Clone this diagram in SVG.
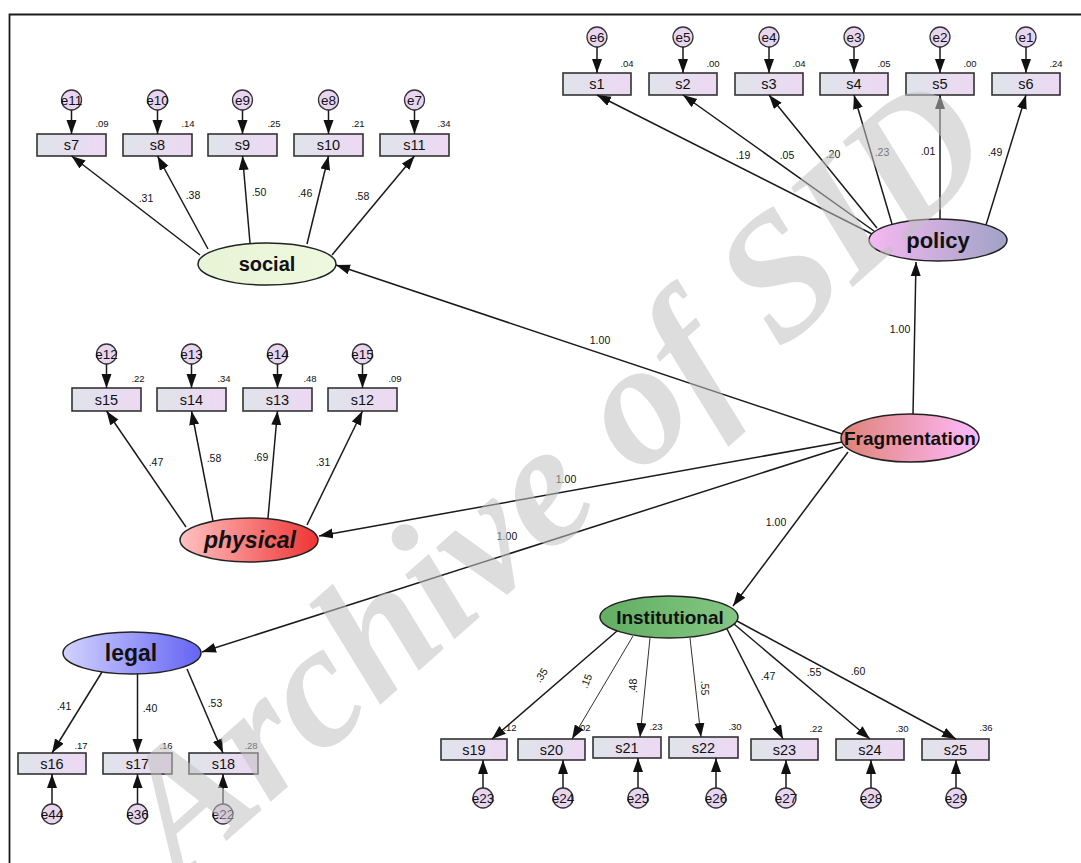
<svg xmlns="http://www.w3.org/2000/svg" width="1081" height="863" viewBox="0 0 1081 863">
<style>
text{font-family:"Liberation Sans",Arial,sans-serif;fill:#111}
.box{fill:url(#gBox);stroke:#333;stroke-width:1.6}
.err{fill:#e8d6f0;stroke:#333;stroke-width:1.3}
.bt{font-size:14.5px;text-anchor:middle}
.et{font-size:13.5px;text-anchor:middle}
.vt{font-size:9.5px;text-anchor:middle}
.lt{font-size:10.5px;text-anchor:middle}
.lat{stroke:#222;stroke-width:1.5}
.nm{font-weight:bold;text-anchor:middle}
.ln{stroke:#1a1a1a;stroke-width:1.5;fill:none;marker-end:url(#ah)}
.thin{stroke:#1a1a1a;stroke-width:0.9;fill:none;marker-end:url(#ah)}
.wm{font-family:"Liberation Serif","Times New Roman",serif;font-weight:bold;font-style:italic;font-size:176px;fill:#c2c2c2;opacity:0.55}
</style>
<defs>
<marker id="ah" markerUnits="userSpaceOnUse" markerWidth="15" markerHeight="11" refX="14" refY="5" orient="auto"><path d="M0,0 L14,5 L0,10 z" fill="#111"/></marker>
<linearGradient id="gBox" x1="0" x2="1" y1="0" y2="0"><stop offset="0" stop-color="#dfe4ea"/><stop offset="1" stop-color="#edd8f3"/></linearGradient>
<linearGradient id="gPol" x1="0" x2="1"><stop offset="0" stop-color="#f6b8f2"/><stop offset="1" stop-color="#9fa3c6"/></linearGradient>
<linearGradient id="gSoc" x1="0" x2="1"><stop offset="0" stop-color="#e8f4d6"/><stop offset="1" stop-color="#eef8de"/></linearGradient>
<linearGradient id="gPhy" x1="0" x2="1"><stop offset="0" stop-color="#ffc2c2"/><stop offset="1" stop-color="#f03434"/></linearGradient>
<linearGradient id="gLeg" x1="0" x2="1"><stop offset="0" stop-color="#d2d2ff"/><stop offset="1" stop-color="#6464f4"/></linearGradient>
<linearGradient id="gIns" x1="0" x2="1"><stop offset="0" stop-color="#62ae62"/><stop offset="1" stop-color="#84c684"/></linearGradient>
<linearGradient id="gFra" x1="0" x2="1"><stop offset="0" stop-color="#de8274"/><stop offset="1" stop-color="#ffbaff"/></linearGradient>
</defs>
<rect width="1081" height="863" fill="#fff"/>
<path d="M9.5,863 V14.5 H1081" fill="none" stroke="#1a1a1a" stroke-width="1.8"/>

<!-- latent nodes -->
<g id="Fragmentation"><ellipse class="lat" cx="910" cy="438" rx="69" ry="24" fill="url(#gFra)"/><text class="nm" x="910" y="445" font-size="19">Fragmentation</text></g>
<g id="policy"><ellipse class="lat" cx="938" cy="240" rx="69" ry="21" fill="url(#gPol)"/><text class="nm" x="938" y="248" font-size="22">policy</text></g>
<g id="social"><ellipse class="lat" cx="267" cy="264" rx="69" ry="21" fill="url(#gSoc)"/><text class="nm" x="267" y="271" font-size="20">social</text></g>
<g id="physical"><ellipse class="lat" cx="249" cy="540" rx="69" ry="22" fill="url(#gPhy)"/><text class="nm" x="250" y="548" font-size="23" font-style="italic">physical</text></g>
<g id="legal"><ellipse class="lat" cx="132" cy="653" rx="69" ry="21" fill="url(#gLeg)"/><text class="nm" x="131" y="661" font-size="23">legal</text></g>
<g id="Institutional"><ellipse class="lat" cx="669" cy="617" rx="69" ry="21" fill="url(#gIns)"/><text class="nm" x="670" y="624" font-size="19">Institutional</text></g>

<!-- policy indicators -->
<g id="s1"><rect class="box" x="563" y="73" width="68" height="22"/><text class="bt" x="597" y="89">s1</text><text class="vt" x="627" y="67">.04</text></g>
<g id="s2"><rect class="box" x="649" y="73" width="68" height="22"/><text class="bt" x="683" y="89">s2</text><text class="vt" x="713" y="67">.00</text></g>
<g id="s3"><rect class="box" x="735" y="73" width="68" height="22"/><text class="bt" x="769" y="89">s3</text><text class="vt" x="799" y="67">.04</text></g>
<g id="s4"><rect class="box" x="820" y="73" width="68" height="22"/><text class="bt" x="854" y="89">s4</text><text class="vt" x="884" y="67">.05</text></g>
<g id="s5"><rect class="box" x="906" y="73" width="68" height="22"/><text class="bt" x="940" y="89">s5</text><text class="vt" x="970" y="67">.00</text></g>
<g id="s6"><rect class="box" x="992" y="73" width="68" height="22"/><text class="bt" x="1026" y="89">s6</text><text class="vt" x="1056" y="67">.24</text></g>
<g id="e6"><circle class="err" cx="597" cy="37" r="10"/><text class="et" x="597" y="42">e6</text></g>
<g id="e5"><circle class="err" cx="683" cy="37" r="10"/><text class="et" x="683" y="42">e5</text></g>
<g id="e4"><circle class="err" cx="769" cy="37" r="10"/><text class="et" x="769" y="42">e4</text></g>
<g id="e3"><circle class="err" cx="854" cy="37" r="10"/><text class="et" x="854" y="42">e3</text></g>
<g id="e2"><circle class="err" cx="940" cy="37" r="10"/><text class="et" x="940" y="42">e2</text></g>
<g id="e1"><circle class="err" cx="1026" cy="37" r="10"/><text class="et" x="1026" y="42">e1</text></g>

<!-- social indicators -->
<g id="s7"><rect class="box" x="37" y="134" width="69" height="22"/><text class="bt" x="71.5" y="150">s7</text><text class="vt" x="102" y="127">.09</text></g>
<g id="s8"><rect class="box" x="123" y="134" width="69" height="22"/><text class="bt" x="157.5" y="150">s8</text><text class="vt" x="188" y="127">.14</text></g>
<g id="s9"><rect class="box" x="208" y="134" width="69" height="22"/><text class="bt" x="242.5" y="150">s9</text><text class="vt" x="274" y="127">.25</text></g>
<g id="s10"><rect class="box" x="294" y="134" width="69" height="22"/><text class="bt" x="328.5" y="150">s10</text><text class="vt" x="358" y="127">.21</text></g>
<g id="s11"><rect class="box" x="380" y="134" width="69" height="22"/><text class="bt" x="414.5" y="150">s11</text><text class="vt" x="444" y="127">.34</text></g>
<g id="e11"><circle class="err" cx="71.5" cy="100" r="10"/><text class="et" x="71.5" y="105">e11</text></g>
<g id="e10"><circle class="err" cx="157.5" cy="100" r="10"/><text class="et" x="157.5" y="105">e10</text></g>
<g id="e9"><circle class="err" cx="242.5" cy="100" r="10"/><text class="et" x="242.5" y="105">e9</text></g>
<g id="e8"><circle class="err" cx="328.5" cy="100" r="10"/><text class="et" x="328.5" y="105">e8</text></g>
<g id="e7"><circle class="err" cx="414.5" cy="100" r="10"/><text class="et" x="414.5" y="105">e7</text></g>

<!-- physical indicators -->
<g id="s15"><rect class="box" x="72" y="388" width="69" height="23"/><text class="bt" x="106.5" y="404.5">s15</text><text class="vt" x="138" y="382">.22</text></g>
<g id="s14"><rect class="box" x="157" y="388" width="69" height="23"/><text class="bt" x="191.5" y="404.5">s14</text><text class="vt" x="224" y="382">.34</text></g>
<g id="s13"><rect class="box" x="243" y="388" width="69" height="23"/><text class="bt" x="277.5" y="404.5">s13</text><text class="vt" x="310" y="382">.48</text></g>
<g id="s12"><rect class="box" x="328" y="388" width="69" height="23"/><text class="bt" x="362.5" y="404.5">s12</text><text class="vt" x="395" y="382">.09</text></g>
<g id="e12"><circle class="err" cx="106.5" cy="354" r="10"/><text class="et" x="106.5" y="359">e12</text></g>
<g id="e13"><circle class="err" cx="191.5" cy="354" r="10"/><text class="et" x="191.5" y="359">e13</text></g>
<g id="e14"><circle class="err" cx="277.5" cy="354" r="10"/><text class="et" x="277.5" y="359">e14</text></g>
<g id="e15"><circle class="err" cx="362.5" cy="354" r="10"/><text class="et" x="362.5" y="359">e15</text></g>

<!-- legal indicators -->
<g id="s16"><rect class="box" x="18" y="753" width="68" height="21"/><text class="bt" x="52" y="768.5">s16</text><text class="vt" x="81" y="749">.17</text></g>
<g id="s17"><rect class="box" x="103" y="753" width="69" height="21"/><text class="bt" x="137.5" y="768.5">s17</text><text class="vt" x="166" y="749">.16</text></g>
<g id="s18"><rect class="box" x="189" y="753" width="69" height="21"/><text class="bt" x="223.5" y="768.5">s18</text><text class="vt" x="251" y="749">.28</text></g>
<g id="e44"><circle class="err" cx="52" cy="814" r="10"/><text class="et" x="52" y="819">e44</text></g>
<g id="e36"><circle class="err" cx="137.5" cy="814" r="10"/><text class="et" x="137.5" y="819">e36</text></g>
<g id="e22"><circle class="err" cx="223" cy="814" r="10"/><text class="et" x="223" y="819">e22</text></g>

<!-- institutional indicators -->
<g id="s19"><rect class="box" x="441" y="739" width="66" height="21"/><text class="bt" x="474" y="754.5">s19</text><text class="vt" x="510" y="731">.12</text></g>
<g id="s20"><rect class="box" x="518" y="739" width="67" height="21"/><text class="bt" x="551.5" y="754.5">s20</text><text class="vt" x="584" y="731">.02</text></g>
<g id="s21"><rect class="box" x="593" y="737" width="68" height="21"/><text class="bt" x="627" y="752.5">s21</text><text class="vt" x="656" y="730">.23</text></g>
<g id="s22"><rect class="box" x="669" y="737" width="69" height="21"/><text class="bt" x="703.5" y="752.5">s22</text><text class="vt" x="735" y="730">.30</text></g>
<g id="s23"><rect class="box" x="751" y="739" width="67" height="21"/><text class="bt" x="784.5" y="754.5">s23</text><text class="vt" x="816" y="732">.22</text></g>
<g id="s24"><rect class="box" x="836" y="739" width="68" height="21"/><text class="bt" x="870" y="754.5">s24</text><text class="vt" x="902" y="732">.30</text></g>
<g id="s25"><rect class="box" x="922" y="739" width="67" height="21"/><text class="bt" x="955.5" y="754.5">s25</text><text class="vt" x="986" y="731">.36</text></g>
<g id="e23"><circle class="err" cx="483" cy="798" r="10"/><text class="et" x="483" y="803">e23</text></g>
<g id="e24"><circle class="err" cx="563" cy="798" r="10"/><text class="et" x="563" y="803">e24</text></g>
<g id="e25"><circle class="err" cx="638" cy="798" r="10"/><text class="et" x="638" y="803">e25</text></g>
<g id="e26"><circle class="err" cx="716" cy="798" r="10"/><text class="et" x="716" y="803">e26</text></g>
<g id="e27"><circle class="err" cx="786" cy="798" r="10"/><text class="et" x="786" y="803">e27</text></g>
<g id="e28"><circle class="err" cx="871" cy="798" r="10"/><text class="et" x="871" y="803">e28</text></g>
<g id="e29"><circle class="err" cx="956" cy="798" r="10"/><text class="et" x="956" y="803">e29</text></g>

<!-- connectors -->
<g id="connectors">
<!-- error arrows -->
<line class="ln" x1="597" y1="47" x2="597" y2="73"/>
<line class="ln" x1="683" y1="47" x2="683" y2="73"/>
<line class="ln" x1="769" y1="47" x2="769" y2="73"/>
<line class="ln" x1="854" y1="47" x2="854" y2="73"/>
<line class="ln" x1="940" y1="47" x2="940" y2="73"/>
<line class="ln" x1="1026" y1="47" x2="1026" y2="73"/>
<line class="ln" x1="71.5" y1="110" x2="71.5" y2="134"/>
<line class="ln" x1="157.5" y1="110" x2="157.5" y2="134"/>
<line class="ln" x1="242.5" y1="110" x2="242.5" y2="134"/>
<line class="ln" x1="328.5" y1="110" x2="328.5" y2="134"/>
<line class="ln" x1="414.5" y1="110" x2="414.5" y2="134"/>
<line class="ln" x1="106.5" y1="364" x2="106.5" y2="388"/>
<line class="ln" x1="191.5" y1="364" x2="191.5" y2="388"/>
<line class="ln" x1="277.5" y1="364" x2="277.5" y2="388"/>
<line class="ln" x1="362.5" y1="364" x2="362.5" y2="388"/>
<line class="ln" x1="52" y1="804" x2="52" y2="774"/>
<line class="ln" x1="137.5" y1="804" x2="137.5" y2="774"/>
<line class="ln" x1="223" y1="804" x2="223" y2="774"/>
<line class="ln" x1="483" y1="788" x2="483" y2="760"/>
<line class="ln" x1="563" y1="788" x2="563" y2="760"/>
<line class="ln" x1="638" y1="788" x2="638" y2="758"/>
<line class="ln" x1="716" y1="788" x2="716" y2="758"/>
<line class="ln" x1="786" y1="788" x2="786" y2="760"/>
<line class="ln" x1="871" y1="788" x2="871" y2="760"/>
<line class="ln" x1="956" y1="788" x2="956" y2="760"/>
<!-- policy loadings -->
<line class="ln" x1="872" y1="234" x2="597" y2="95"/>
<line class="ln" x1="874" y1="231" x2="683" y2="95"/>
<line class="ln" x1="877" y1="228" x2="769" y2="95"/>
<line class="ln" x1="892" y1="224" x2="854" y2="95"/>
<line class="ln" x1="940" y1="219" x2="940" y2="95"/>
<line class="ln" x1="986" y1="225" x2="1026" y2="95"/>
<!-- social loadings -->
<line class="ln" x1="200" y1="255" x2="71.5" y2="156"/>
<line class="ln" x1="208" y1="249" x2="157.5" y2="156"/>
<line class="ln" x1="250" y1="243" x2="242.5" y2="156"/>
<line class="ln" x1="307" y1="244" x2="328.5" y2="156"/>
<line class="ln" x1="332" y1="255" x2="414.5" y2="156"/>
<!-- physical loadings -->
<line class="ln" x1="186" y1="527" x2="106.5" y2="411"/>
<line class="ln" x1="213" y1="521" x2="191.5" y2="411"/>
<line class="ln" x1="268" y1="518" x2="277.5" y2="411"/>
<line class="ln" x1="307" y1="525" x2="362.5" y2="411"/>
<!-- legal loadings -->
<line class="ln" x1="102" y1="672" x2="52" y2="753"/>
<line class="ln" x1="137.5" y1="674" x2="137.5" y2="753"/>
<line class="ln" x1="187" y1="669" x2="223" y2="753"/>
<!-- institutional loadings -->
<line class="ln" x1="617" y1="631" x2="492" y2="739"/>
<line class="thin" x1="633" y1="636" x2="572" y2="739"/>
<line class="thin" x1="650" y1="638" x2="640" y2="737"/>
<line class="thin" x1="690" y1="638" x2="701" y2="737"/>
<line class="ln" x1="727" y1="629" x2="783" y2="739"/>
<line class="ln" x1="734" y1="624" x2="870" y2="739"/>
<line class="ln" x1="737" y1="621" x2="956" y2="739"/>
<!-- structural -->
<line class="ln" x1="913" y1="414" x2="916" y2="262"/>
<line class="ln" x1="842" y1="434" x2="336" y2="265"/>
<line class="ln" x1="842" y1="442" x2="319" y2="536"/>
<line class="ln" x1="843" y1="447" x2="202" y2="652"/>
<line class="ln" x1="848" y1="452" x2="733" y2="606"/>
<!-- loading labels -->
<text class="lt" x="743" y="159">.19</text>
<text class="lt" x="787" y="159">.05</text>
<text class="lt" x="833" y="158">.20</text>
<text class="lt" x="882" y="156">.23</text>
<text class="lt" x="928" y="155">.01</text>
<text class="lt" x="995" y="156">.49</text>
<text class="lt" x="146" y="202">.31</text>
<text class="lt" x="193" y="199">.38</text>
<text class="lt" x="259" y="196">.50</text>
<text class="lt" x="305" y="197">.46</text>
<text class="lt" x="362" y="200">.58</text>
<text class="lt" x="156" y="466">.47</text>
<text class="lt" x="214" y="462">.58</text>
<text class="lt" x="261" y="461">.69</text>
<text class="lt" x="323" y="466">.31</text>
<text class="lt" x="64" y="710">.41</text>
<text class="lt" x="150" y="712">.40</text>
<text class="lt" x="215" y="707">.53</text>
<text class="lt" transform="translate(541,675) rotate(-55)" y="4">.35</text>
<text class="lt" transform="translate(586,681) rotate(-68)" y="4">.15</text>
<text class="lt" transform="translate(633,686) rotate(-90)" y="4">.48</text>
<text class="lt" transform="translate(705,688) rotate(90)" y="4">.55</text>
<text class="lt" x="768" y="680">.47</text>
<text class="lt" x="814" y="676">.55</text>
<text class="lt" x="858" y="675">.60</text>
<text class="lt" x="900" y="333">1.00</text>
<text class="lt" x="600" y="344">1.00</text>
<text class="lt" x="566" y="483">1.00</text>
<text class="lt" x="507" y="540">1.00</text>
<text class="lt" x="776" y="526">1.00</text>
</g>

<text class="wm" transform="translate(180,882) rotate(-41.5)">Archive of SID</text>
</svg>
